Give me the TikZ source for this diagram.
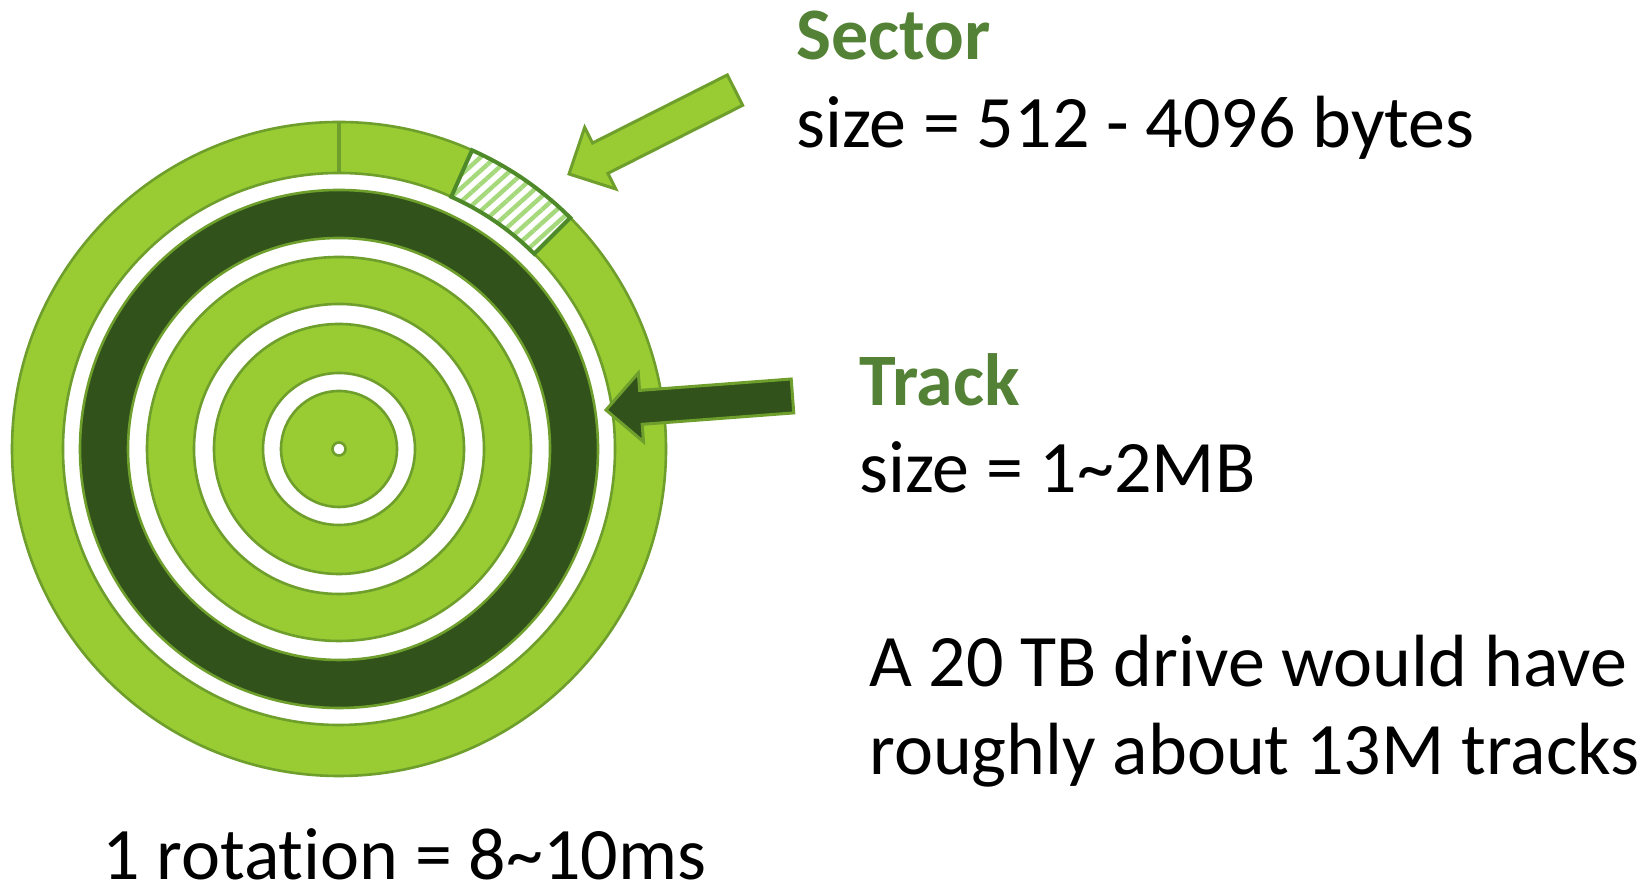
\documentclass[tikz,border=0pt]{standalone}
\usepackage{fontspec}
\setmainfont{Carlito}[Ligatures={NoCommon,NoRequired,NoContextual}]
\usetikzlibrary{patterns.meta}

\definecolor{disklight}{HTML}{99CC33}
\definecolor{diskdark}{HTML}{31521B}
\definecolor{diskedge}{HTML}{6E9E2B}
\definecolor{sectoredge}{HTML}{4E8A2A}
\definecolor{hatchgreen}{HTML}{A6D97C}
\definecolor{titlegreen}{HTML}{538135}

\tikzset{
	ring/.style={fill=disklight, draw=diskedge, line width=1.3pt, even odd rule},
	darkring/.style={ring, fill=diskdark},
	blockarrow/.style={draw=diskedge, line width=1.5pt, line join=miter},
	title/.style={anchor=base west, inner sep=0pt, text=titlegreen,
		font=\fontsize{37}{44}\selectfont\bfseries},
	body/.style={anchor=base west, inner sep=0pt,
		font=\fontsize{37}{44}\selectfont},
}

\begin{document}
\begin{tikzpicture}[x=0.5pt, y=0.5pt]
		\fill[white] (0,0) rectangle (1652,886);
		\useasboundingbox (0,0) rectangle (1652,886);
		% disk
		\coordinate (c) at (339,437);
		\path[ring] (c) circle[radius=327] (c) circle[radius=276];
		\path[darkring] (c) circle[radius=259] (c) circle[radius=211];
		\path[ring] (c) circle[radius=192] (c) circle[radius=145];
		\path[ring] (c) circle[radius=125] (c) circle[radius=76];
		\path[ring] (c) circle[radius=58] (c) circle[radius=6.5];
		% sectors
		\draw[diskedge, line width=2.4pt] (c) ++(90:276) -- ++(90:51);
		\draw[sectoredge, line width=2pt, preaction={fill=white},
			pattern={Lines[angle=42, distance=5pt, line width=2.2pt]},
			pattern color=hatchgreen]
		(c) ++(45:276) arc[start angle=45, end angle=66, radius=276]
		-- ++(66:51) arc[start angle=66, end angle=45, radius=327] -- cycle;
		% arrows
		\begin{scope}[shift={(569,712)}, rotate=26.8]
			\draw[blockarrow, fill=disklight] (0,0) -- (35,34.5) -- (35,17)
			-- (186,17) -- (186,-17) -- (35,-17) -- (35,-34.5) -- cycle;
		\end{scope}
		\begin{scope}[shift={(606,476)}, rotate=4.3]
			\draw[blockarrow, fill=diskdark] (0,0) -- (35,34.5) -- (35,17)
			-- (187,17) -- (187,-17) -- (35,-17) -- (35,-34.5) -- cycle;
		\end{scope}
		% labels
		\node[title] (sector) at (796,826) {Sector};
		\node[body] (sectorsize) at (796,738.5) {size = 512 - 4096 bytes};
		\node[title] (track) at (859,480) {Track};
		\node[body] (tracksize) at (859,393) {size = 1\textasciitilde 2MB};
		\node[body] (drive) at (869,199) {A 20 TB drive would have};
		\node[body] (tracks) at (869,111.5) {roughly about 13M tracks};
		\node[body, text depth=0pt] (rotation) at (102,6) {1 rotation = 8\textasciitilde 10ms};
	\end{tikzpicture}
\end{document}
